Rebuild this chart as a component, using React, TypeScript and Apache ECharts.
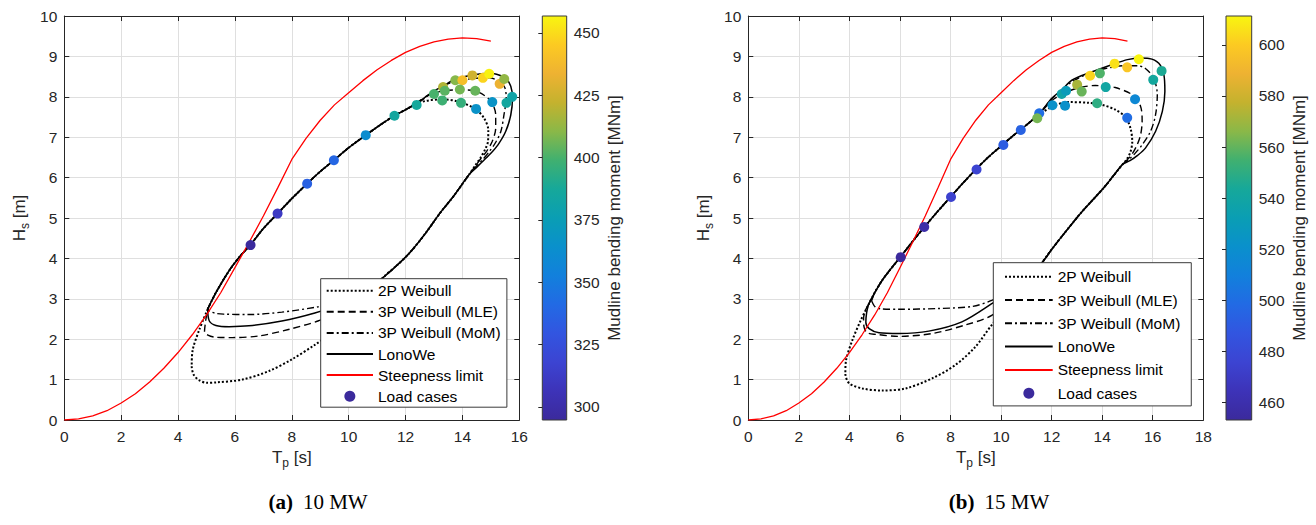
import React, { useEffect, useRef } from 'react';
import * as echarts from 'echarts';

const FONT = 'Liberation Sans, Arial, sans-serif';
const SERIF = 'Liberation Serif, Times New Roman, serif';
const AX = '#262626';

// ---------- data ----------
const steepness: number[][] = [[0,0],[0.5,0.03],[1,0.1],[1.5,0.23],[2,0.42],[2.5,0.65],[3,0.94],[3.5,1.28],[4,1.67],[4.5,2.11],[5,2.6],[5.5,3.15],[6,3.77],[6.5,4.4],[7,5.05],[7.5,5.74],[8,6.45],[8.5,6.97],[9,7.42],[9.5,7.8],[10,8.1],[10.5,8.4],[11,8.67],[11.5,8.9],[12,9.1],[12.5,9.25],[13,9.36],[13.5,9.43],[14,9.46],[14.5,9.44],[15,9.38]];

// 10 MW contours
const p2_10: number[][] = [[5.04,2.74],[5.33,3.15],[5.8,3.7],[6.2,4.07],[6.55,4.34],[7.0,4.74],[7.5,5.11],[8.0,5.48],[8.54,5.85],[9.0,6.15],[9.5,6.44],[10.0,6.74],[10.6,7.05],[11.1,7.3],[11.6,7.53],[12.0,7.68],[12.48,7.86],[13.3,7.94],[13.92,7.87],[14.47,7.69],[14.76,7.47],[14.91,7.18],[14.9,6.9],[14.8,6.7],[14.64,6.5],[14.45,6.3],[14.23,6.07],[13.7,5.55],[13.21,5.12],[12.7,4.62],[12.16,4.15],[11.7,3.83],[11.2,3.52],[10.6,3.0],[10.0,2.5],[9.4,2.15],[8.81,1.86],[8.0,1.5],[7.19,1.21],[6.26,1.0],[5.33,0.93],[5.01,0.92],[4.75,0.98],[4.55,1.12],[4.48,1.34],[4.52,1.75],[4.75,2.24],[5.04,2.74]];
const mle10: number[][] = [[5.04,2.74],[5.33,3.15],[5.8,3.7],[6.2,4.07],[6.55,4.34],[7.0,4.74],[7.5,5.11],[8.0,5.48],[8.54,5.85],[9.0,6.15],[9.5,6.44],[10.0,6.74],[10.6,7.05],[11.1,7.3],[11.6,7.53],[12.0,7.68],[12.4,7.86],[12.83,8.05],[13.36,8.15],[14.0,8.17],[14.47,8.14],[14.82,8.01],[15.05,7.84],[15.17,7.55],[15.17,7.22],[15.05,6.9],[14.85,6.65],[14.68,6.5],[14.45,6.28],[14.23,6.07],[13.7,5.55],[13.21,5.12],[12.7,4.62],[12.16,4.15],[11.7,3.83],[11.2,3.52],[10.5,3.02],[9.7,2.68],[8.92,2.45],[7.88,2.24],[6.84,2.08],[5.91,2.04],[5.3,2.05],[5.05,2.1],[4.93,2.18],[4.97,2.45],[5.04,2.74]];
const mom10: number[][] = [[5.04,2.74],[5.33,3.15],[5.8,3.7],[6.2,4.07],[6.55,4.34],[7.0,4.74],[7.5,5.11],[8.0,5.48],[8.54,5.85],[9.0,6.15],[9.5,6.44],[10.0,6.74],[10.6,7.05],[11.1,7.3],[11.6,7.53],[12.0,7.68],[12.4,7.83],[12.9,8.08],[13.53,8.33],[14.23,8.44],[14.94,8.47],[15.29,8.38],[15.49,8.23],[15.54,7.97],[15.46,7.55],[15.35,7.14],[15.15,6.85],[14.95,6.65],[14.72,6.45],[14.45,6.25],[14.23,6.07],[13.7,5.55],[13.21,5.12],[12.7,4.62],[12.16,4.15],[11.7,3.83],[11.2,3.52],[10.4,3.13],[9.6,2.9],[8.92,2.8],[7.65,2.67],[6.49,2.61],[5.6,2.62],[5.33,2.64],[5.12,2.69],[5.04,2.74]];
const lono10: number[][] = [[5.04,2.74],[5.33,3.15],[5.8,3.7],[6.2,4.07],[6.55,4.34],[7.0,4.74],[7.5,5.11],[8.0,5.48],[8.54,5.85],[9.0,6.15],[9.5,6.44],[10.0,6.74],[10.6,7.05],[11.1,7.3],[11.6,7.53],[12.0,7.68],[12.4,7.84],[12.9,8.1],[13.3,8.26],[13.77,8.44],[14.35,8.54],[14.94,8.58],[15.2,8.56],[15.52,8.46],[15.7,8.26],[15.76,7.97],[15.7,7.55],[15.52,7.14],[15.25,6.81],[15.0,6.6],[14.78,6.45],[14.5,6.25],[14.23,6.07],[13.7,5.55],[13.21,5.12],[12.7,4.62],[12.16,4.15],[11.7,3.83],[11.2,3.52],[10.5,3.15],[9.8,2.88],[8.81,2.65],[7.65,2.45],[6.49,2.33],[5.8,2.31],[5.33,2.34],[5.1,2.45],[5.04,2.74]];

// 15 MW contours
const p2_15: number[][] = [[4.75,2.85],[5.0,3.15],[5.3,3.46],[5.65,3.75],[6.0,4.02],[6.5,4.42],[7.0,4.8],[7.5,5.17],[8.0,5.52],[8.5,5.87],[9.0,6.2],[9.5,6.51],[10.0,6.78],[10.5,7.05],[11.0,7.3],[11.5,7.56],[12.14,7.79],[12.67,7.87],[13.47,7.85],[14.0,7.8],[14.52,7.68],[14.92,7.5],[15.12,7.22],[15.19,6.89],[15.12,6.64],[14.97,6.45],[14.81,6.33],[14.45,6.05],[14.08,5.76],[13.6,5.43],[13.15,5.12],[12.5,4.62],[12.0,4.22],[11.6,3.88],[10.6,3.05],[9.63,2.35],[8.98,1.81],[8.19,1.36],[7.27,1.03],[6.22,0.78],[5.3,0.73],[4.52,0.78],[3.99,0.91],[3.84,1.15],[3.86,1.45],[4.12,1.98],[4.45,2.47],[4.75,2.85]];
const mle15: number[][] = [[4.75,2.85],[5.0,3.15],[5.3,3.46],[5.65,3.75],[6.0,4.02],[6.5,4.42],[7.0,4.8],[7.5,5.17],[8.0,5.52],[8.5,5.87],[9.0,6.2],[9.5,6.51],[10.0,6.78],[10.5,7.05],[11.0,7.3],[11.5,7.57],[12.0,7.9],[12.4,8.06],[12.94,8.2],[13.73,8.28],[14.14,8.26],[14.52,8.23],[15.19,8.05],[15.52,7.76],[15.58,7.39],[15.52,7.06],[15.38,6.81],[15.2,6.6],[15.0,6.45],[14.81,6.33],[14.45,6.05],[14.08,5.76],[13.6,5.43],[13.15,5.12],[12.5,4.62],[12.0,4.22],[11.6,3.88],[10.6,3.1],[9.63,2.59],[8.58,2.35],[7.27,2.14],[5.96,2.07],[5.04,2.12],[4.7,2.16],[4.58,2.3],[4.56,2.5],[4.62,2.7],[4.75,2.85]];
const mom15: number[][] = [[4.88,2.95],[5.0,3.15],[5.3,3.46],[5.65,3.75],[6.0,4.02],[6.5,4.42],[7.0,4.8],[7.5,5.17],[8.0,5.52],[8.5,5.87],[9.0,6.2],[9.5,6.51],[10.0,6.78],[10.5,7.05],[11.0,7.3],[11.5,7.57],[12.0,7.95],[12.4,8.16],[12.8,8.37],[13.47,8.58],[14.13,8.7],[14.92,8.77],[15.4,8.77],[15.71,8.7],[16.04,8.46],[16.18,8.05],[16.11,7.55],[15.91,7.14],[15.58,6.81],[15.3,6.6],[15.05,6.45],[14.81,6.33],[14.45,6.05],[14.08,5.76],[13.6,5.43],[13.15,5.12],[12.5,4.62],[12.0,4.22],[11.6,3.88],[10.6,3.3],[9.63,2.96],[8.85,2.81],[7.53,2.76],[5.96,2.74],[5.25,2.75],[5.02,2.8],[4.88,2.95]];
const lono15: number[][] = [[4.75,2.85],[5.0,3.15],[5.3,3.46],[5.65,3.75],[6.0,4.02],[6.5,4.42],[7.0,4.8],[7.5,5.17],[8.0,5.52],[8.5,5.87],[9.0,6.2],[9.5,6.51],[10.0,6.78],[10.5,7.05],[11.0,7.3],[11.5,7.57],[12.0,7.96],[12.4,8.17],[12.8,8.41],[13.52,8.6],[14.49,8.82],[15.0,8.92],[15.45,8.96],[15.85,8.95],[16.24,8.83],[16.44,8.55],[16.48,8.13],[16.38,7.64],[16.11,7.14],[15.71,6.73],[15.4,6.55],[15.1,6.42],[14.81,6.33],[14.45,6.05],[14.08,5.76],[13.6,5.43],[13.15,5.12],[12.5,4.62],[12.0,4.22],[11.6,3.88],[10.6,3.3],[9.63,2.88],[8.45,2.43],[7.14,2.2],[5.96,2.14],[5.17,2.16],[4.78,2.26],[4.65,2.42],[4.68,2.65],[4.75,2.85]];

// load cases [Tp, Hs, mudline moment MNm]
const loads10: number[][] = [[6.55,4.33,295],[7.50,5.11,311],[8.54,5.85,336],[9.48,6.43,339],[10.60,7.05,362],[11.61,7.53,385],[12.39,7.80,387],[13.00,8.07,400],[13.29,7.91,398],[13.32,8.24,418],[13.38,8.15,403],[13.75,8.41,410],[14.00,8.41,440],[13.91,8.18,407],[13.95,7.85,396],[14.35,8.53,425],[14.45,8.15,405],[14.48,7.70,366],[14.72,8.47,448],[14.94,8.57,456],[15.05,7.87,367],[15.31,8.32,433],[15.47,8.44,412],[15.55,7.85,385],[15.75,8.00,382]];
const loads15: number[][] = [[6.03,4.03,453],[6.96,4.78,458],[8.02,5.52,474],[9.03,6.20,476],[10.09,6.81,491],[10.78,7.18,494],[11.51,7.59,500],[11.43,7.47,563],[12.03,7.79,522],[12.53,7.78,522],[12.40,8.07,538],[12.57,8.15,530],[13.01,8.30,572],[13.19,8.13,561],[13.52,8.52,603],[13.91,8.58,557],[13.80,7.84,550],[14.14,8.24,540],[14.49,8.82,606],[14.99,8.73,598],[14.99,7.48,500],[15.30,7.94,515],[15.45,8.93,611],[16.02,8.42,542],[16.35,8.64,545]];

const CB10 = [294.7, 456.8];
const CB15 = [453.1, 611.3];
const CB10_TICKS = [300, 325, 350, 375, 400, 425, 450];
const CB15_TICKS = [460, 480, 500, 520, 540, 560, 580, 600];

const LEGEND_NAMES = ['2P Weibull', '3P Weibull (MLE)', '3P Weibull (MoM)', 'LonoWe', 'Steepness limit', 'Load cases'];

const PARULA = ['#3b2a9c','#3d33b8','#3c44d2','#3255e0','#226ae4','#1280dc','#0a90cc','#0a9eb4','#16a89a','#40b070','#8ab848','#c4b22e','#eeb232','#fcca22','#f8f510'];

// ---------- option builders ----------
const nameStyle = {
  color: AX, fontFamily: FONT, fontSize: 17,
  rich: {
    a: { color: AX, fontFamily: FONT, fontSize: 17 },
    s: { color: AX, fontFamily: FONT, fontSize: 12, padding: [11, 0, 0, 0] },
  },
};
const tickLabel = { color: AX, fontFamily: FONT, fontSize: 15.5 };
const lineAx = { show: true, onZero: false, lineStyle: { color: AX, width: 1 } };
const tickIn = { show: true, inside: true, length: 5, lineStyle: { color: AX, width: 1 } };

function xAxes(grid: number, max: number) {
  return [
    { gridIndex: grid, type: 'value', min: 0, max, interval: 2, position: 'bottom',
      name: '{a|T}{s|p}{a| [s]}', nameLocation: 'middle', nameGap: 26, nameTextStyle: nameStyle,
      axisLine: lineAx, axisTick: tickIn, axisLabel: { ...tickLabel, margin: 8 },
      splitLine: { show: true, lineStyle: { color: '#dfdfdf', width: 1 } } },
    { gridIndex: grid, type: 'value', min: 0, max, interval: 2, position: 'top',
      axisLine: lineAx, axisTick: tickIn, axisLabel: { show: false }, splitLine: { show: false } },
  ];
}
function yAxes(grid: number) {
  return [
    { gridIndex: grid, type: 'value', min: 0, max: 10, interval: 1, position: 'left',
      name: '{a|H}{s|s}{a| [m]}', nameLocation: 'middle', nameGap: 33, nameRotate: 90, nameTextStyle: nameStyle,
      axisLine: lineAx, axisTick: tickIn, axisLabel: { ...tickLabel, margin: 7 },
      splitLine: { show: true, lineStyle: { color: '#dfdfdf', width: 1 } } },
    { gridIndex: grid, type: 'value', min: 0, max: 10, interval: 1, position: 'right',
      axisLine: lineAx, axisTick: tickIn, axisLabel: { show: false }, splitLine: { show: false } },
  ];
}
function cbAxes(grid: number, range: number[], ticks: number[]) {
  return {
    x: { gridIndex: grid, type: 'value', min: 0, max: 1, show: false },
    y: { gridIndex: grid, type: 'value', position: 'right', min: range[0], max: range[1], z: 10,
      axisLine: { show: false },
      axisTick: { show: true, inside: true, length: 4, customValues: ticks, lineStyle: { color: AX } },
      axisLabel: { ...tickLabel, margin: 7, customValues: ticks },
      splitLine: { show: false },
      name: 'Mudline bending moment [MNm]', nameLocation: 'middle', nameRotate: 90, nameGap: 39,
      nameTextStyle: { color: AX, fontFamily: FONT, fontSize: 17 } },
  };
}

function contour(name: string, data: number[][], xi: number, yi: number, type: any, width: number) {
  return { type: 'line', name, data, xAxisIndex: xi, yAxisIndex: yi, symbol: 'none', showSymbol: false,
    smooth: 0.3, lineStyle: { color: '#000', width, type }, itemStyle: { color: '#000' }, silent: true, z: 2 };
}
function plotSeries(xi: number, yi: number, c: number[][][], loads: number[][]) {
  return [
    contour('2P Weibull', c[0], xi, yi, [2, 2], 2),
    contour('3P Weibull (MLE)', c[1], xi, yi, [7, 4], 1.4),
    contour('3P Weibull (MoM)', c[2], xi, yi, [7, 3, 2, 3], 1.4),
    contour('LonoWe', c[3], xi, yi, 'solid', 1.5),
    { type: 'line', name: 'Steepness limit', data: steepness, xAxisIndex: xi, yAxisIndex: yi, symbol: 'none',
      showSymbol: false, lineStyle: { color: '#ff0000', width: 1.3 }, itemStyle: { color: '#ff0000' }, silent: true, z: 2 },
    { type: 'scatter', name: 'Load cases', data: loads, xAxisIndex: xi, yAxisIndex: yi, symbolSize: 10,
      itemStyle: { opacity: 1 }, silent: true, z: 3 },
  ];
}
function colorbarSeries(xi: number, yi: number, range: number[]) {
  return {
    type: 'custom', xAxisIndex: xi, yAxisIndex: yi, silent: true, z: 2,
    data: [[0.5, range[0]]],
    renderItem: (_p: any, api: any) => {
      const a = api.coord([0, range[1]]);
      const b = api.coord([1, range[0]]);
      const stops = PARULA.map((c, i) => ({ offset: i / (PARULA.length - 1), color: c }));
      return {
        type: 'group',
        children: [
          { type: 'rect', shape: { x: a[0], y: a[1], width: b[0] - a[0], height: b[1] - a[1] },
            style: { fill: new echarts.graphic.LinearGradient(0, 1, 0, 0, stops) } },
          { type: 'rect', shape: { x: a[0], y: a[1], width: b[0] - a[0], height: b[1] - a[1] },
            style: { fill: 'none', stroke: '#3a3a3a', lineWidth: 1 } },
        ],
      };
    },
  };
}
function legend(left: number, top: number, padding: number[], gap: number, w: number) {
  return {
    left, top, orient: 'vertical', padding, itemGap: gap, itemWidth: w, itemHeight: 11,
    backgroundColor: '#ffffff', borderColor: '#3a3a3a', borderWidth: 1, borderRadius: 0,
    selectedMode: false,
    itemStyle: { opacity: 0 },
    textStyle: { color: '#000', fontFamily: FONT, fontSize: 15.5, lineHeight: 16 },
    data: LEGEND_NAMES.map((n) => (n === 'Load cases'
      ? { name: n, itemStyle: { color: '#3b2a9c', opacity: 1 } }
      : { name: n })),
  };
}
function caption(x: number, tag: string, label: string) {
  return {
    type: 'text', x, y: 502,
    style: {
      text: `{b|${tag}}{n|${label}}`,
      align: 'center', verticalAlign: 'middle', textAlign: 'center', textVerticalAlign: 'middle',
      rich: {
        b: { fontFamily: SERIF, fontWeight: 'bold', fontSize: 21, fill: '#000', padding: [0, 10, 0, 0] },
        n: { fontFamily: SERIF, fontSize: 21, fill: '#000' },
      },
    },
  };
}

export default function App() {
  const ref = useRef<HTMLDivElement>(null);
  useEffect(() => {
    const chart = echarts.init(ref.current as HTMLDivElement, null, { renderer: 'svg' });
    const xa = xAxes(0, 16), xb = xAxes(1, 18);
    const ya = yAxes(0), yb = yAxes(1);
    const ca = cbAxes(2, CB10, CB10_TICKS), cb = cbAxes(3, CB15, CB15_TICKS);
    const option: any = {
      animation: false,
      backgroundColor: '#ffffff',
      grid: [
        { left: 64.3, top: 16, width: 455, height: 404 },
        { left: 748.3, top: 16, width: 455, height: 404 },
        { left: 542.3, top: 16, width: 24.4, height: 404 },
        { left: 1226, top: 16, width: 25.7, height: 404 },
      ],
      xAxis: [xa[0], xa[1], xb[0], xb[1], ca.x, cb.x],
      yAxis: [ya[0], ya[1], yb[0], yb[1], ca.y, cb.y],
      visualMap: [
        { type: 'continuous', show: false, seriesIndex: 5, dimension: 2, min: CB10[0], max: CB10[1], inRange: { color: PARULA } },
        { type: 'continuous', show: false, seriesIndex: 12, dimension: 2, min: CB15[0], max: CB15[1], inRange: { color: PARULA } },
      ],
      legend: [
        legend(320.7, 278.7, [4, 6, 3, 5], 5.1, 46.3),
        legend(993.3, 262.7, [6, 10.7, 4.7, 10.7], 7.3, 47.7),
      ],
      series: [
        ...plotSeries(0, 0, [p2_10, mle10, mom10, lono10], loads10),
        colorbarSeries(4, 4, CB10),
        ...plotSeries(2, 2, [p2_15, mle15, mom15, lono15], loads15),
        colorbarSeries(5, 5, CB15),
      ],
      graphic: [caption(318, '(a)', '10 MW'), caption(999, '(b)', '15 MW')],
    };
    chart.setOption(option);
    return () => chart.dispose();
  }, []);
  return <div ref={ref} style={{ position: 'fixed', left: 0, top: 0, width: 1316, height: 525, background: '#fff' }} />;
}
